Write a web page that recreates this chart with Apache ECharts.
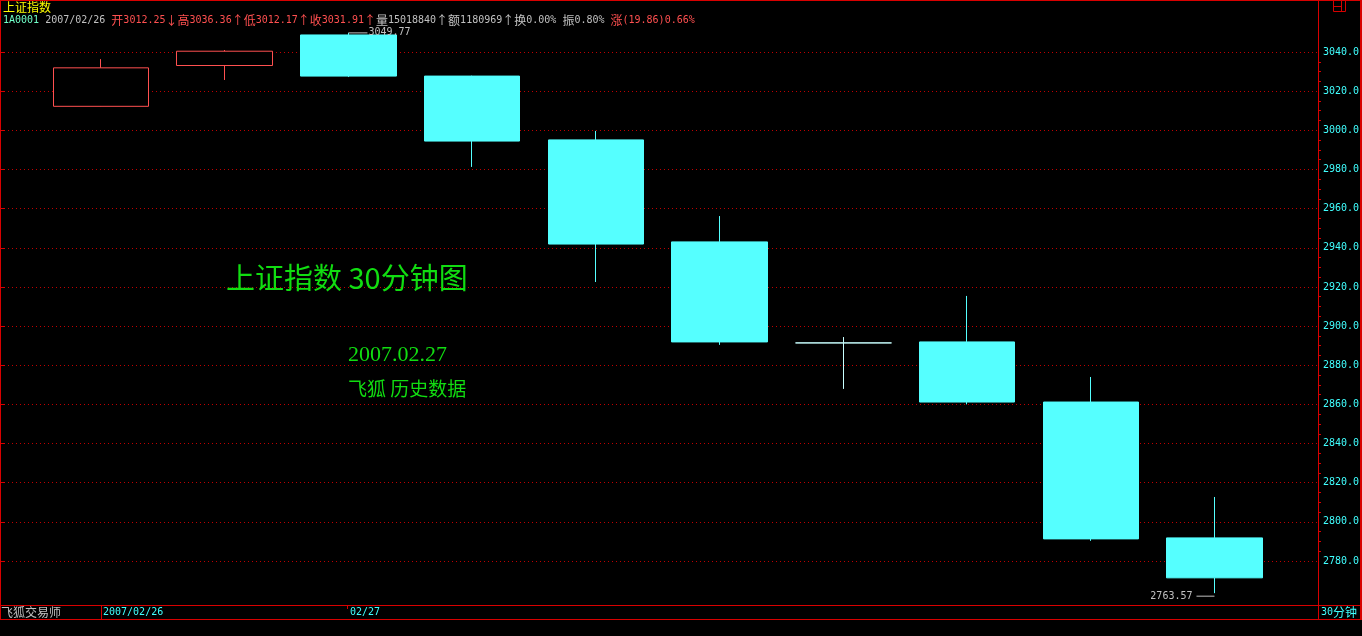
<!DOCTYPE html>
<html><head><meta charset="utf-8">
<script src="https://cdn.jsdelivr.net/npm/echarts@6/dist/echarts.min.js"></script>
<style>html,body{margin:0;padding:0;background:#000;}#c{width:1362px;height:636px;}</style>
</head><body><div id="c"></div>
<script>
// ---- data ----
const categories = ['2007/02/26 14:30','2007/02/26 15:00','2007/02/27 10:00','2007/02/27 10:30','2007/02/27 11:00','2007/02/27 11:30','2007/02/27 13:30','2007/02/27 14:00','2007/02/27 14:30','2007/02/27 15:00'];
const opens  = [3012.25, 3033.1, 3048.7, 3027.7, 2995.1, 2943.0, 2891.4, 2891.9, 2861.2, 2791.8];
const closes = [3031.91, 3040.4, 3027.7, 2994.5, 2941.9, 2891.9, 2891.4, 2861.2, 2791.3, 2771.4];
const lows   = [3012.17, 3025.7, 3027.2, 2981.3, 2922.5, 2890.4, 2867.9, 2860.0, 2790.3, 2763.57];
const highs  = [3036.36, 3041.0, 3049.77, 3027.9, 2999.7, 2956.2, 2894.4, 2915.4, 2874.0, 2812.7];
const yTickLabels = [2780, 2800, 2820, 2840, 2860, 2880, 2900, 2920, 2940, 2960, 2980, 3000, 3020, 3040];
const bottomDateLabels = ['2007/02/26', '02/27'];
const bottomDateIndex = [0, 2];
const headerName = '上证指数';
const headerCode = '1A0001';
const headerDate = '2007/02/26';
const headerVolume = '15018840';
const headerAmount = '1180969';
const headerTurnover = '0.00%';
const headerAmplitude = '0.80%';
const headerChange = '(19.86)0.66%';
const annoTitle = '上证指数 30分钟图';
const annoDate = '2007.02.27';
const annoSource = '飞狐 历史数据';
const footerLeft = '飞狐交易师';
const footerPeriod = ['30', '分钟'];

// ---- derived ----
const candleData = categories.map((c, i) => [opens[i], closes[i], lows[i], highs[i]]);
const minorTicks = [];
for (let i = 0; i < yTickLabels.length - 1; i++) {
  for (let k = 1; k < 4; k++) minorTicks.push(yTickLabels[i] + k * (yTickLabels[i + 1] - yTickLabels[i]) / 4);
}
const yMin = 2757.525, yMax = 3056.346;
const mono = '"DejaVu Sans Mono", monospace';
const RED = '#d80000', GRID_RED = '#c00000', CYAN = '#55ffff', GREY = '#c0c0c0', TXT_RED = '#ff5050', LCYAN = '#40ffff', GREEN = '#11dd11';
const hiIdx = highs.indexOf(Math.max(...highs));
const loIdx = lows.indexOf(Math.min(...lows));

const chart = echarts.init(document.getElementById('c'));
chart.setOption({
  backgroundColor: '#000',
  animation: false,
  grid: [
    {left: 39.14, width: 1237.2, top: 20, height: 585, outerBoundsMode: 'none'},
    {left: 0, width: 1318, top: 20, height: 585, outerBoundsMode: 'none'}
  ],
  xAxis: [
    {type: 'category', gridIndex: 0, data: categories, show: false, boundaryGap: true},
    {type: 'value', gridIndex: 1, show: false, min: 0, max: 1}
  ],
  yAxis: [
    {type: 'value', gridIndex: 0, min: yMin, max: yMax, position: 'right', offset: 1318 - (39.14 + 1237.2) + 1,
     axisLine: {show: false}, axisTick: {show: true, inside: false, length: 2, customValues: minorTicks, lineStyle: {color: RED, width: 1}},
     axisLabel: {show: false}, splitLine: {show: false}},
    {type: 'value', gridIndex: 1, min: yMin, max: yMax, position: 'right',
     axisLine: {show: false}, axisTick: {show: true, inside: false, length: 5, customValues: yTickLabels, lineStyle: {color: RED}},
     axisLabel: {show: true, customValues: yTickLabels, formatter: v => v.toFixed(1), color: LCYAN, fontFamily: mono, fontSize: 10, margin: 5},
     splitLine: {show: true, lineStyle: {color: GRID_RED, type: [1, 3], width: 1}}}
  ],
  series: [{
    type: 'candlestick', xAxisIndex: 0, yAxisIndex: 0, data: candleData, barWidth: 96, silent: true,
    itemStyle: {color: '#000', color0: CYAN, borderColor: TXT_RED, borderColor0: CYAN, borderColorDoji: '#c8ffff', borderWidth: 1},
    emphasis: {disabled: true},
    markPoint: {
      symbolSize: 0, silent: true, animation: false,
      data: [
        {coord: [categories[hiIdx], highs[hiIdx]], value: highs[hiIdx],
         label: {show: true, position: 'right', distance: 0, formatter: '{ln|}{t|' + highs[hiIdx].toFixed(2) + '}',
           rich: {ln: {width: 19, height: 1, backgroundColor: GREY}, t: {color: GREY, fontFamily: mono, fontSize: 10, padding: [0, 0, 0, 1]}}}},
        {coord: [categories[loIdx], lows[loIdx]], value: lows[loIdx],
         label: {show: true, position: 'left', distance: 0, offset: [0, 3], formatter: '{t|' + lows[loIdx].toFixed(2) + '}{ln|}',
           rich: {ln: {width: 18, height: 1, backgroundColor: GREY}, t: {color: GREY, fontFamily: mono, fontSize: 10, padding: [0, 4, 0, 0]}}}}
      ]
    }
  }]
});

function box(x, y, w, h, c) { return {type: 'rect', silent: true, z: 100, shape: {x, y, width: w, height: h}, style: {fill: c || RED}}; }
function txt(x, y, text, fill, font) {
  return {type: 'text', silent: true, z: 100, x: x, y: y, style: {text: text, fill: fill, font: font, verticalAlign: 'middle', textVerticalAlign: 'middle'}};
}
const o = opens[0], h = highs[0], l = lows[0], c = closes[0];
const header = '{g|' + headerCode + ' }{w|' + headerDate + ' }' +
  '{rc|开}{r|' + o.toFixed(2) + '}{rc|↓}' +
  '{rc|高}{r|' + h.toFixed(2) + '}{rc|↑}' +
  '{rc|低}{r|' + l.toFixed(2) + '}{rc|↑}' +
  '{rc|收}{r|' + c.toFixed(2) + '}{rc|↑}' +
  '{wc|量}{w|' + headerVolume + '}{wc|↑}' +
  '{wc|额}{w|' + headerAmount + '}{wc|↑}' +
  '{wc|换}{w|' + headerTurnover + ' }' +
  '{wc|振}{w|' + headerAmplitude + ' }' +
  '{rc|涨}{r|' + headerChange + '}';
const richHead = {
  g: {fill: '#70ffc8', fontFamily: 'DejaVu Sans Mono', fontSize: 10},
  w: {fill: GREY, fontFamily: 'DejaVu Sans Mono', fontSize: 10},
  wc: {fill: GREY, fontFamily: 'Noto Sans CJK SC', fontSize: 12},
  r: {fill: TXT_RED, fontFamily: 'DejaVu Sans Mono', fontSize: 10},
  rc: {fill: TXT_RED, fontFamily: 'Noto Sans CJK SC', fontSize: 12}
};
const px = i => chart.convertToPixel({xAxisIndex: 0}, categories[i]);
const graphics = [
  box(0, 0, 1, 620), box(0, 0, 1362, 1), box(1360, 0, 2, 620),
  box(1318, 0, 1, 620), box(0, 605, 1362, 1), box(0, 619, 1362, 1),
  {type: 'rect', silent: true, z: 100, shape: {x: 1333.5, y: 0.5, width: 12, height: 11}, style: {fill: 'none', stroke: RED, lineWidth: 1}},
  box(1333, 6, 8, 1), box(1341, 0, 1, 11),
  txt(3, 7, headerName, '#ffff00', '12px "Noto Sans CJK SC"'),
  {type: 'text', silent: true, z: 100, x: 3, y: 20, style: {text: header, rich: richHead, verticalAlign: 'middle', textVerticalAlign: 'middle'}},
  txt(1, 612, footerLeft, GREY, '12px "Noto Sans CJK SC"'),
  {type: 'text', silent: true, z: 100, x: 1321, y: 612, style: {text: '{a|' + footerPeriod[0] + '}{b|' + footerPeriod[1] + '}', verticalAlign: 'middle', textVerticalAlign: 'middle',
    rich: {a: {fill: LCYAN, fontFamily: 'DejaVu Sans Mono', fontSize: 10}, b: {fill: LCYAN, fontFamily: 'Noto Sans CJK SC', fontSize: 12}}}},
  txt(226, 278, annoTitle, GREEN, '29px "Noto Sans CJK SC"'),
  txt(348, 355, annoDate, GREEN, '22px "Liberation Serif"'),
  txt(348, 389, annoSource, GREEN, '19px "Noto Sans CJK SC"')
];
bottomDateLabels.forEach((s, k) => {
  const x = Math.round(px(bottomDateIndex[k]));
  graphics.push(txt(x + 2, 612, s, LCYAN, '10px "DejaVu Sans Mono"'));
  graphics.push(k === 0 ? box(x, 605, 1, 15) : box(x - 1, 605, 1, 4));
});
chart.setOption({graphic: graphics});
</script>
</body></html>
